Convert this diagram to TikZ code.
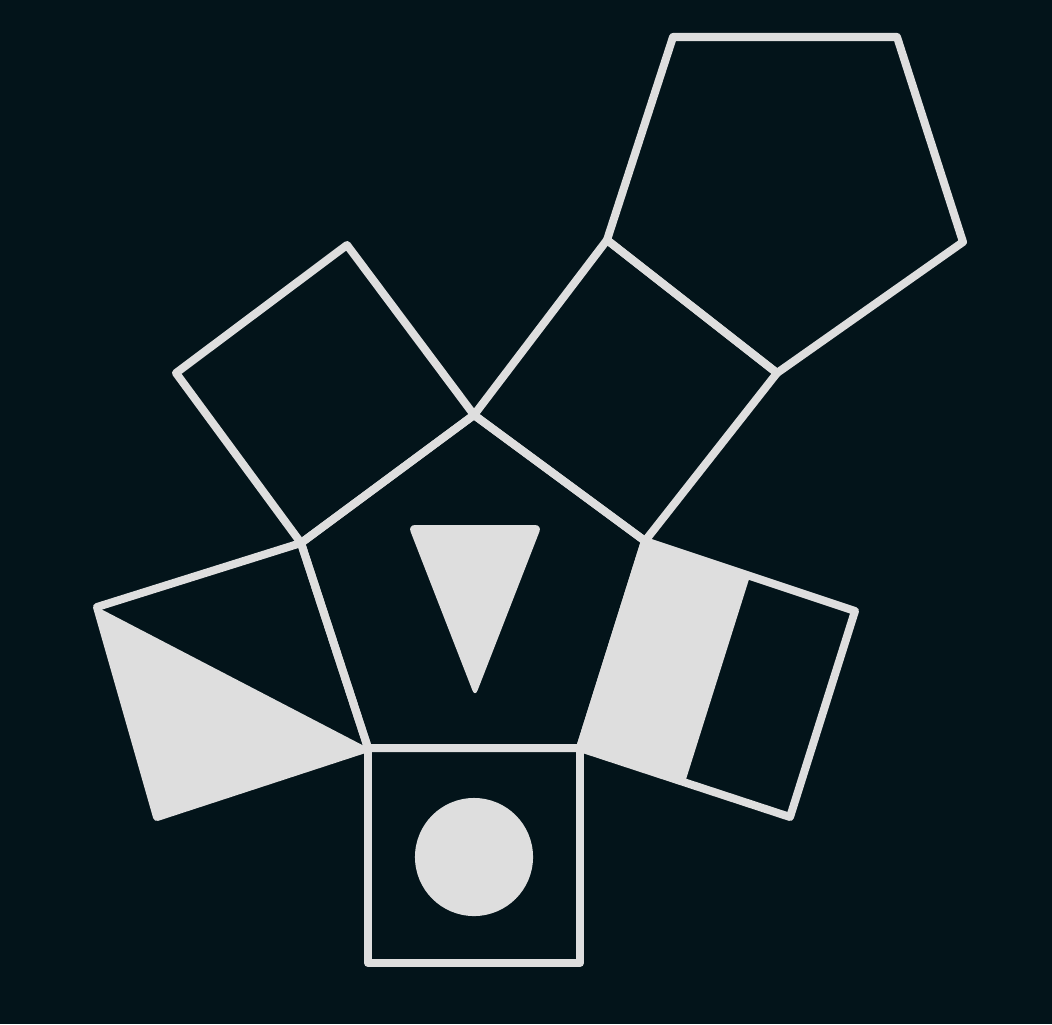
\documentclass[tikz,border=0pt]{standalone}
\usetikzlibrary{calc}
\definecolor{bgdark}{RGB}{3,20,26}
\definecolor{chalk}{RGB}{222,222,222}
\tikzstyle{outline} = [draw=chalk, line width=0.08cm, line join=round]
\tikzstyle{chalkfill} = [fill=chalk]
\begin{document}
\begin{tikzpicture}[x=0.01cm, y=-0.01cm]
            \fill[bgdark] (0,0) rectangle (1052,1024);
            \useasboundingbox (0,0) rectangle (1052,1024);
            % middle pentagon
            \coordinate (p1) at (474,415);
            \coordinate (p2) at (301,543);
            \coordinate (p3) at (368,748);
            \coordinate (p4) at (580,748);
            \coordinate (p5) at (645,541);
            % outer corners of the squares
            \coordinate (ul1) at (347,245);
            \coordinate (ul2) at (176,373);
            \coordinate (ur1) at (607,240);
            \coordinate (ur2) at (777,373);
            \coordinate (rr1) at (855,611);
            \coordinate (rr2) at (790,817);
            \coordinate (bb1) at (580,963);
            \coordinate (bb2) at (368,963);
            \coordinate (ll1) at (157,817);
            \coordinate (ll2) at (97,607);
            % top pentagon
            \coordinate (t3) at (963,242);
            \coordinate (t4) at (897,37);
            \coordinate (t5) at (673,37);
            % filled parts
            \fill[chalkfill] (ll2) -- (p3) -- (ll1) -- cycle;
            \fill[chalkfill] (p5) -- ($(p5)!.5!(rr1)$) -- ($(p4)!.5!(rr2)$) -- (p4) -- cycle;
            \fill[chalkfill, rounded corners=2pt] (408,525) -- (542,525) -- (475,697) -- cycle;
            \fill[chalkfill] (474,857) circle (0.59cm);
            % outlines
            \draw[outline] (p1) -- (p2) -- (p3) -- (p4) -- (p5) -- cycle;
            \draw[outline] (p2) -- (p1) -- (ul1) -- (ul2) -- cycle;
            \draw[outline] (p1) -- (p5) -- (ur2) -- (ur1) -- cycle;
            \draw[outline] (p5) -- (p4) -- (rr2) -- (rr1) -- cycle;
            \draw[outline] (p4) -- (p3) -- (bb2) -- (bb1) -- cycle;
            \draw[outline] (p3) -- (p2) -- (ll2) -- (ll1) -- cycle;
            \draw[outline] (ur1) -- (ur2) -- (t3) -- (t4) -- (t5) -- cycle;
\end{tikzpicture}
\end{document}
